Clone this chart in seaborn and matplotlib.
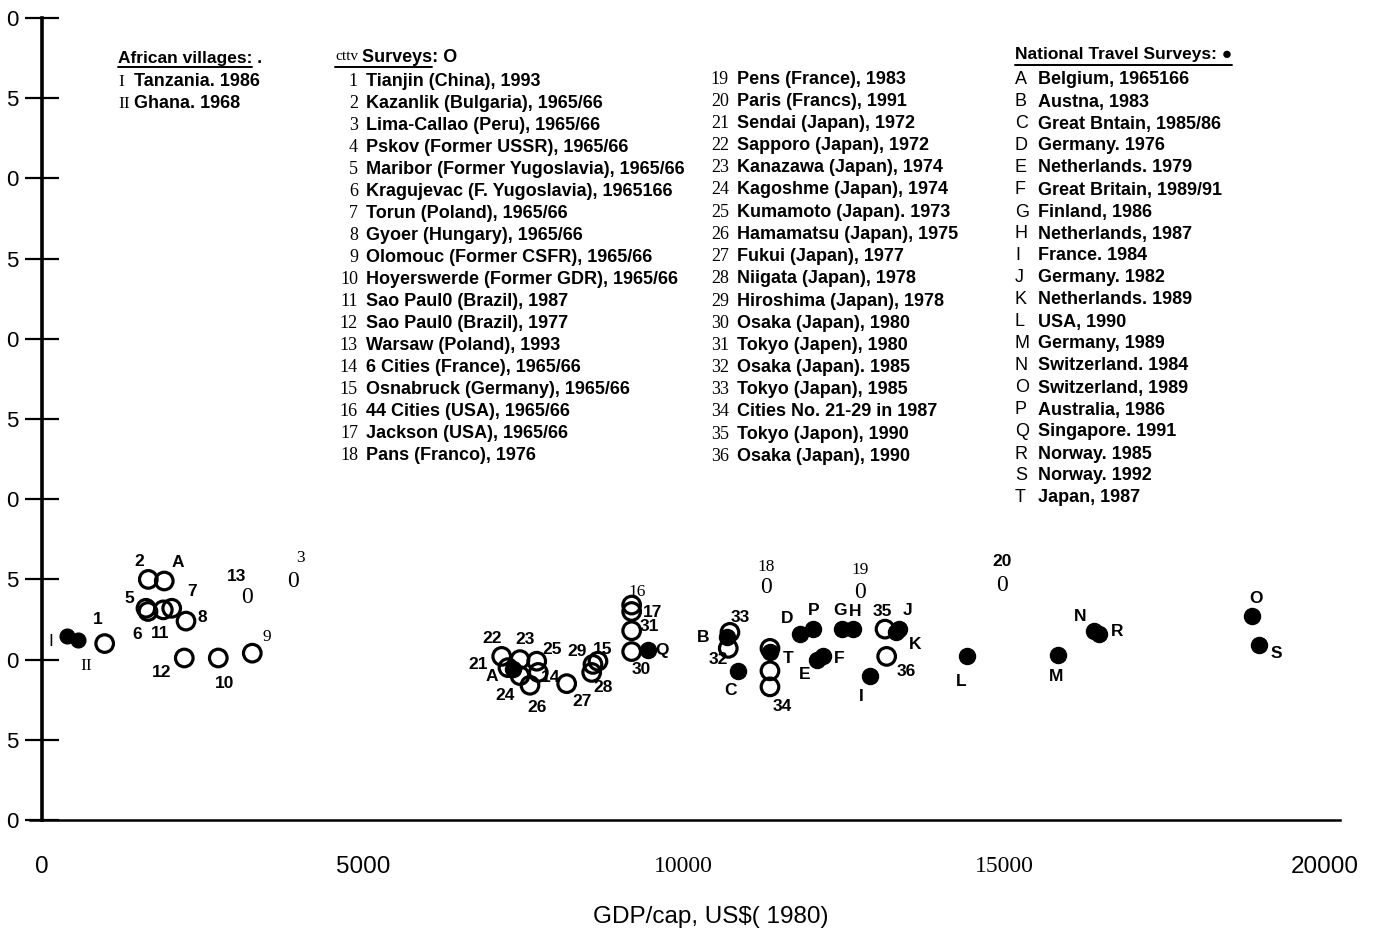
import matplotlib
matplotlib.use("Agg")
import matplotlib.pyplot as plt
from matplotlib.lines import Line2D
import seaborn as sns

# travel time (h/day) against GDP per capita
village_labels = ["I", "II"]
village_x = [385, 556]
village_y = [1.15, 1.12]

city_labels = ["1", "2", "A", "5", "6", "11", "7", "8", "9", "10", "12",
               "14", "15", "16", "17", "31", "30", "21", "22", "23", "24",
               "25", "26", "27", "28", "29", "32", "33", "", "", "34", "35", "36"]
city_x = [977, 1657, 1906, 1621, 1652, 1891, 2022, 2245, 3278, 2748, 2218,
          7736, 8667, 9192, 9192, 9192, 9192, 7264, 7166, 7451, 7451,
          7712, 7607, 8179, 8569, 8589, 10698, 10724, 11348, 11348, 11348, 13141, 13167]
city_y = [1.10, 1.50, 1.49, 1.32, 1.30, 1.31, 1.32, 1.24, 1.04, 1.01, 1.01,
          0.92, 0.99, 1.34, 1.30, 1.18, 1.05, 0.95, 1.02, 1.00, 0.90,
          0.99, 0.84, 0.85, 0.92, 0.97, 1.07, 1.17, 1.07, 0.93, 0.83, 1.19, 1.02]

# city surveys that the scan shows as a "0" glyph
glyph_labels = ["3", "13", "18", "19", "20"]
glyph_x = [3917, 3191, 11286, 12751, 14969]
glyph_y = [1.49, 1.39, 1.45, 1.42, 1.46]

national_labels = ["A", "B", "C", "D", "E", "F", "G", "H", "I", "J",
                   "K", "L", "M", "N", "O", "P", "Q", "R", "S", "T"]
national_x = [7342, 10673, 10854, 11816, 12076, 12174, 12466, 12647, 12907, 13359,
              13312, 14414, 15843, 16399, 18857, 12023, 9451, 16477, 18976, 11348]
national_y = [0.94, 1.14, 0.93, 1.16, 1.00, 1.02, 1.19, 1.19, 0.90, 1.19,
              1.17, 1.025, 1.03, 1.18, 1.27, 1.19, 1.06, 1.16, 1.09, 1.05]

x_ticks = [0, 5000, 10000, 15000, 20000]
y_ticks = [0, 0.5, 1.0, 1.5, 2.0, 2.5, 3.0, 3.5, 4.0, 4.5, 5.0]
# the scan only keeps the last character of each y tick label
y_tick_labels = ["0", "5", "0", "5", "0", "5", "0", "5", "0", "5", "0"]

village_items = ["I Tanzania. 1986", "II Ghana. 1968"]
city_items_1 = [
    "1 Tianjin (China), 1993", "2 Kazanlik (Bulgaria), 1965/66",
    "3 Lima-Callao (Peru), 1965/66", "4 Pskov (Former USSR), 1965/66",
    "5 Maribor (Former Yugoslavia), 1965/66", "6 Kragujevac (F. Yugoslavia), 1965166",
    "7 Torun (Poland), 1965/66", "8 Gyoer (Hungary), 1965/66",
    "9 Olomouc (Former CSFR), 1965/66", "10 Hoyerswerde (Former GDR), 1965/66",
    "11 Sao Paul0 (Brazil), 1987", "12 Sao Paul0 (Brazil), 1977",
    "13 Warsaw (Poland), 1993", "14 6 Cities (France), 1965/66",
    "15 Osnabruck (Germany), 1965/66", "16 44 Cities (USA), 1965/66",
    "17 Jackson (USA), 1965/66", "18 Pans (Franco), 1976"]
city_items_2 = [
    "19 Pens (France), 1983", "20 Paris (Francs), 1991",
    "21 Sendai (Japan), 1972", "22 Sapporo (Japan), 1972",
    "23 Kanazawa (Japan), 1974", "24 Kagoshme (Japan), 1974",
    "25 Kumamoto (Japan). 1973", "26 Hamamatsu (Japan), 1975",
    "27 Fukui (Japan), 1977", "28 Niigata (Japan), 1978",
    "29 Hiroshima (Japan), 1978", "30 Osaka (Japan), 1980",
    "31 Tokyo (Japen), 1980", "32 Osaka (Japan). 1985",
    "33 Tokyo (Japan), 1985", "34 Cities No. 21-29 in 1987",
    "35 Tokyo (Japon), 1990", "36 Osaka (Japan), 1990"]
national_items = [
    "A Belgium, 1965166", "B Austna, 1983", "C Great Bntain, 1985/86",
    "D Germany. 1976", "E Netherlands. 1979", "F Great Britain, 1989/91",
    "G Finland, 1986", "H Netherlands, 1987", "I France. 1984",
    "J Germany. 1982", "K Netherlands. 1989", "L USA, 1990",
    "M Germany, 1989", "N Switzerland. 1984", "O Switzerland, 1989",
    "P Australia, 1986", "Q Singapore. 1991", "R Norway. 1985",
    "S Norway. 1992", "T Japan, 1987"]

# label placement around the marks, in pixels (dx right, dy down)
label_offsets = {
    "I": (-16, 6), "II": (9, 26), "1": (-7, -24), "2": (-9, -18), "A": (14, -19),
    "5": (-17, -10), "6": (-11, 23), "11": (-3, 24), "7": (20, -17), "8": (16, -4),
    "9": (15, -16), "10": (6, 26), "12": (-23, 15), "3": (7, -23), "13": (-10, -21),
    "14": (12, 5), "15": (5, -12), "16": (5, -13), "17": (21, 1), "31": (18, -4),
    "30": (10, 18), "18": (0, -20), "19": (0, -22), "20": (0, -24), "21": (-30, -3),
    "22": (-10, -18), "23": (5, -20), "24": (-15, 20), "25": (15, -12), "26": (7, 22),
    "27": (15, 18), "28": (11, 15), "29": (-16, -13), "32": (-10, 11), "33": (10, -15),
    "34": (12, 20), "35": (-3, -18), "36": (20, 15),
}
national_offsets = {
    "A": (-21, 7), "B": (-24, 0), "C": (-8, 20), "D": (-13, -15), "E": (-12, 15),
    "F": (16, 2), "G": (-2, -19), "H": (2, -18), "I": (-9, 21), "J": (9, -19),
    "K": (19, 12), "L": (-5, 26), "M": (-2, 22), "N": (-14, -14), "O": (4, -18),
    "P": (0, -19), "Q": (14, 1), "R": (18, -2), "S": (17, 8), "T": (18, 7),
}
serif_labels = {"II", "3", "9", "16", "18", "19"}

W, H = 1379, 935
sns.set_theme(style="white")
plt.rcParams["font.family"] = ["Liberation Sans", "DejaVu Sans"]
plt.rcParams["text.color"] = "black"
plt.rcParams["axes.labelcolor"] = "black"
plt.rcParams["xtick.color"] = "black"
plt.rcParams["ytick.color"] = "black"

fig = plt.figure(figsize=(W / 100, H / 100), dpi=100)
ax = fig.add_axes([30 / W, (H - 820) / H, 1310 / W, 802 / H])

sns.scatterplot(x=city_x, y=city_y, s=160, marker="o", facecolor="none",
                edgecolor="black", linewidth=2.3, ax=ax, zorder=3)
sns.scatterplot(x=national_x, y=national_y, s=135, marker="o", color="black",
                edgecolor="black", ax=ax, zorder=4)
sns.scatterplot(x=village_x, y=village_y, s=115, marker="o", color="black",
                edgecolor="black", ax=ax, zorder=4)

for lab, x, y in zip(glyph_labels, glyph_x, glyph_y):
    ax.text(x, y, "0", family="Liberation Serif", fontsize=17, ha="center",
            va="center", zorder=3)


def put_label(lab, x, y, offs, bold=True):
    dx, dy = offs
    serif = lab in serif_labels
    ax.annotate(lab, (x, y), xytext=(dx, -dy), textcoords="offset pixels",
                ha="center", va="center", fontsize=12.5,
                family="Liberation Serif" if serif else "Liberation Sans",
                fontweight="bold" if (bold and not serif) else "normal", zorder=5)


for lab, x, y in zip(city_labels, city_x, city_y):
    if lab:
        put_label(lab, x, y, label_offsets[lab])
for lab, x, y in zip(glyph_labels, glyph_x, glyph_y):
    put_label(lab, x, y, label_offsets[lab], bold=(lab in ("13", "20")))
for lab, x, y in zip(village_labels, village_x, village_y):
    put_label(lab, x, y, label_offsets[lab], bold=False)
for lab, x, y in zip(national_labels, national_x, national_y):
    put_label(lab, x, y, national_offsets[lab])

# axes: data 0 sits 12 px right of the axes edge, 20000 at px 1325
px = 20000 / 1283
ax.set_xlim(-12 * px, 20000 + 15 * px)
ax.set_ylim(0, 5.0)
ax.set_xticks(x_ticks)
ax.set_xticklabels([str(v) for v in x_ticks])
ax.set_yticks(y_ticks)
ax.set_yticklabels(y_tick_labels)
ax.tick_params(axis="x", length=0, pad=26, labelsize=17.5)
ax.tick_params(axis="y", direction="inout", length=24, width=1.6, pad=5,
               labelsize=16, left=True)
for t, fam in zip(ax.get_xticklabels(), ["Liberation Sans", "Liberation Sans",
                                         "Liberation Serif", "Liberation Serif",
                                         "Liberation Sans"]):
    t.set_family(fam)
    if fam == "Liberation Serif":
        t.set_fontsize(17)

for side in ("top", "right"):
    ax.spines[side].set_visible(False)
ax.spines["left"].set_position(("data", 0))
ax.spines["left"].set_linewidth(2.6)
ax.spines["bottom"].set_linewidth(1.8)
for sp in ax.spines.values():
    sp.set_color("black")
ax.set_xlabel("GDP/cap, US\\$( 1980)", fontsize=17.5, labelpad=20,
              x=(711 - 30) / 1310)


def ftext(x, y, s, **kw):
    kw.setdefault("va", "center")
    kw.setdefault("fontsize", 13)
    fig.text(x / W, 1 - y / H, s, **kw)


def underline(x0, x1, y):
    fig.add_artist(Line2D([x0 / W, x1 / W], [1 - y / H, 1 - y / H],
                          color="black", linewidth=1.4))


# legend blocks
ftext(118, 58, "African villages: .", fontweight="bold", fontsize=12.5)
underline(118, 252, 67)
for i, item in enumerate(village_items):
    key, rest = item.split(" ", 1)
    ftext(118, 82 + 22 * i, key, family="Liberation Serif", fontsize=12.5)
    ftext(134, 82 + 22 * i, rest, fontweight="bold")

ftext(335, 57, "cttv", family="Liberation Serif", fontsize=11)
ftext(362, 57, "Surveys: O", fontweight="bold")
underline(335, 432, 67)
for i, item in enumerate(city_items_1):
    key, rest = item.split(" ", 1)
    ftext(358, 82 + 22 * i, key, ha="right", family="Liberation Serif", fontsize=13)
    ftext(366, 82 + 22 * i, rest, fontweight="bold")
for i, item in enumerate(city_items_2):
    key, rest = item.split(" ", 1)
    ftext(729, 79 + 22.2 * i, key, ha="right", family="Liberation Serif", fontsize=13)
    ftext(737, 79 + 22.2 * i, rest, fontweight="bold")

ftext(1015, 55, "National Travel Surveys: \u25cf", fontweight="bold", fontsize=12.5)
underline(1015, 1232, 65)
for i, item in enumerate(national_items):
    key, rest = item.split(" ", 1)
    ftext(1015, 80 + 22 * i, key, family="Liberation Sans", fontsize=13)
    ftext(1038, 80 + 22 * i, rest, fontweight="bold")

fig.savefig("out.png", dpi=100)
